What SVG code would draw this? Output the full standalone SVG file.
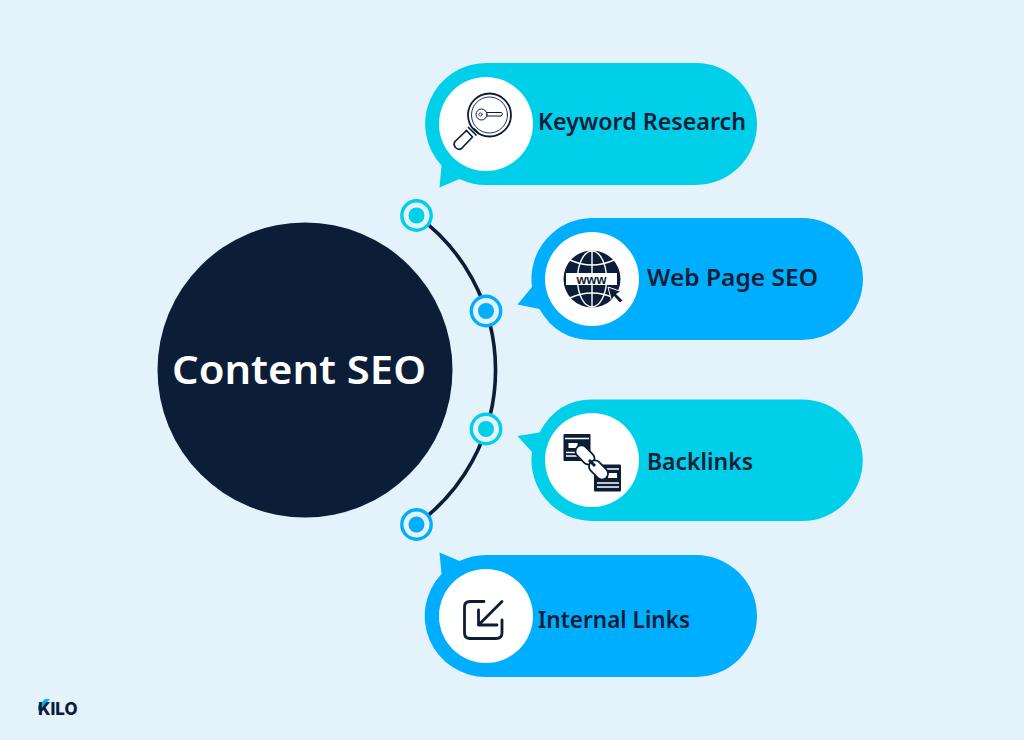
<svg xmlns="http://www.w3.org/2000/svg" width="1024" height="740" viewBox="0 0 1024 740">
<style>
.cy{fill:#00CFEA}.bl{fill:#00AEFF}.w{fill:#fff}.n{fill:#0C1D37}
.lb{font-family:"Noto Sans","Open Sans",sans-serif;font-weight:600;font-size:23px;fill:#0C1D37}
.ln{fill:none;stroke:#0C1D37;stroke-linecap:round;stroke-linejoin:round}
.dot{fill:#E4F2FC;stroke-width:3.4}
</style>
<rect width="1024" height="740" fill="#E4F2FC"/>
<g id="connectors">
<path d="M416.500 215.500A190.500 190.500 0 0 1 416.500 524.500" fill="none" stroke="#0C1D37" stroke-width="3.600"/>
</g>
<g id="center"><circle cx="305" cy="370" r="147.500" class="n"/>
<text x="299" y="384" text-anchor="middle" font-family="'Noto Sans','Open Sans',sans-serif" font-weight="600" font-size="40" fill="#fff" textLength="254" lengthAdjust="spacingAndGlyphs">Content SEO</text></g>
<g id="dot1"><circle cx="416.500" cy="215.500" r="14.700" class="dot" stroke="#00CFEA"/><circle cx="416.500" cy="215.500" r="8" class="cy"/></g>
<g id="dot2"><circle cx="486" cy="311" r="14.700" class="dot" stroke="#00AEFF"/><circle cx="486" cy="311" r="8" class="bl"/></g>
<g id="dot3"><circle cx="486" cy="429" r="14.700" class="dot" stroke="#00CFEA"/><circle cx="486" cy="429" r="8" class="cy"/></g>
<g id="dot4"><circle cx="416.500" cy="524.500" r="14.700" class="dot" stroke="#00AEFF"/><circle cx="416.500" cy="524.500" r="8" class="bl"/></g>

<g id="keyword-research">
<path class="cy" d="M486 63H696A61 61 0 0 1 696 185H486Q472 185 459.500 179L439.500 187.500L441.500 165.500A61 61 0 0 1 486 63Z"/>
<circle cx="486" cy="124" r="47" class="w"/>
<circle cx="489.500" cy="115" r="21.500" class="ln" stroke-width="1.800"/>
<circle cx="489.500" cy="115" r="18" class="ln" stroke-width="0.900"/>
<circle cx="481.500" cy="114.500" r="5.500" class="ln" stroke-width="1"/>
<circle cx="480.500" cy="114.500" r="1.600" class="ln" stroke-width="0.800"/>
<path class="ln" stroke-width="1" d="M486.500 112.500H501.500L502.500 114L501 116H486.500"/>
<path class="ln" stroke-width="1.700" d="M474.500 129L478 132.500M468.500 127.500L476 135M466.500 130.500L472.500 137L461.500 148.500Q458.500 150.500 455.500 147.500Q453 144.500 455 141.500Z"/>
<text class="lb" x="538" y="130" textLength="208" lengthAdjust="spacingAndGlyphs">Keyword Research</text>
</g>

<g id="web-page-seo">
<path class="bl" d="M592 218H802A61 61 0 0 1 802 340H592Q557 340 539.500 309L517.500 304.500L532 287A61 61 0 0 1 592 218Z"/>
<circle cx="592" cy="279" r="47" class="w"/>
<circle cx="592" cy="279" r="28.500" class="n"/>
<g fill="none" stroke="#fff" stroke-width="1.400">
<path d="M592 250.500V307.500"/>
<ellipse cx="592" cy="279" rx="14.500" ry="28"/>
<path d="M570 260Q592 270 614 260M570 298Q592 288 614 298"/>
</g>
<rect x="566" y="273" width="51" height="12" class="w"/>
<text x="591.500" y="284" text-anchor="middle" font-family="'Liberation Sans',sans-serif" font-weight="700" font-size="13.500" fill="#0C1D37" textLength="30" lengthAdjust="spacingAndGlyphs">www</text>
<path class="n" stroke="#fff" stroke-width="1" d="M608 287L621 291.500L616.500 294L623 300.500L620 303L614 296.500L611.500 301Z"/>
<text class="lb" x="647" y="286" textLength="171" lengthAdjust="spacingAndGlyphs">Web Page SEO</text>
</g>

<g id="backlinks">
<path class="cy" d="M592 399.500H802A60.750 60.750 0 0 1 802 521H592A61 61 0 0 1 532 452L517.500 436L539.500 432.500Q557 399.500 592 399.500Z"/>
<circle cx="592" cy="460" r="47" class="w"/>
<rect x="563.500" y="434" width="27" height="27" rx="1" class="n"/>
<path stroke="#fff" stroke-width="1.500" fill="none" d="M565 438.500H589M566 456H579M566 452.500H582"/>
<rect x="568.500" y="443" width="9" height="5" class="w"/>
<rect x="594" y="464.500" width="27" height="27" rx="1" class="n"/>
<path stroke="#fff" stroke-width="1.500" fill="none" d="M595 469H619M597 483H619M597 487H619"/>
<rect x="608" y="473" width="9" height="5" class="w"/>
<rect x="574" y="449" width="22" height="12" rx="6" transform="rotate(45 585 455)" fill="#fff" stroke="#0C1D37" stroke-width="1.800"/>
<rect x="587.500" y="464" width="22" height="12" rx="6" transform="rotate(45 598.500 470)" fill="#fff" stroke="#0C1D37" stroke-width="1.800"/>
<path stroke="#0C1D37" stroke-width="3" d="M589 460L595 466"/>
<text class="lb" x="647" y="470" textLength="106" lengthAdjust="spacingAndGlyphs">Backlinks</text>
</g>

<g id="internal-links">
<path class="bl" d="M486 555H696A61 61 0 0 1 696 677H486A61 61 0 0 1 441.500 574L439.500 552.500L459.500 561Q472 555 486 555Z"/>
<circle cx="486" cy="616" r="47" class="w"/>
<path class="ln" stroke-width="2.800" d="M484 601.500H470Q464.500 601.500 464.500 607V633Q464.500 638.500 470 638.500H496Q502 638.500 502 633V620M502 601.500L478.500 625M478.500 610V625H497"/>
<text class="lb" x="538" y="628" textLength="152" lengthAdjust="spacingAndGlyphs">Internal Links</text>
</g>

<g id="logo">
<path class="bl" d="M38 706L45 699H50L38 711Z"/>
<text x="38" y="714.500" font-family="Inter,Lato,sans-serif" font-weight="800" font-size="17" fill="#0C1D37" textLength="39.500" lengthAdjust="spacingAndGlyphs">KILO</text>
</g>
</svg>
